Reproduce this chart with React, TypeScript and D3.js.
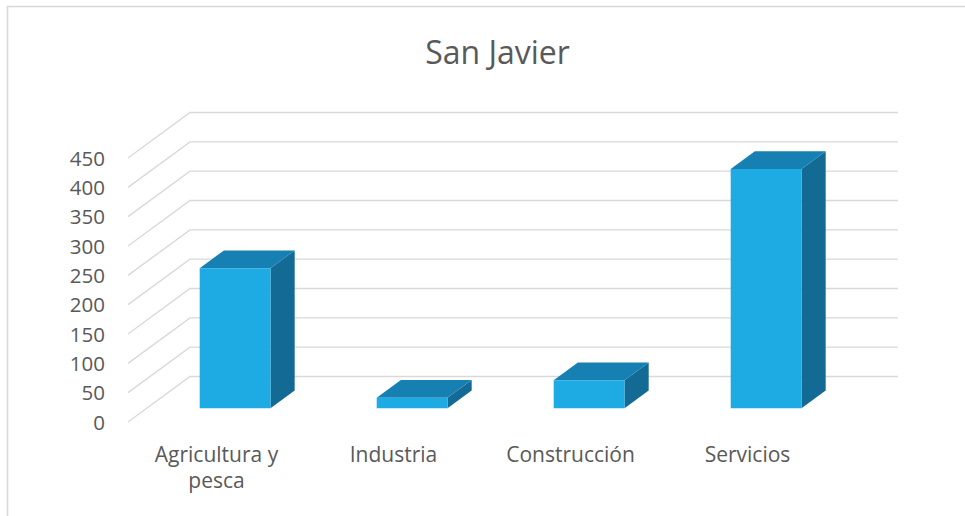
import React from "react";
import * as d3 from "d3";

const categories: string[][] = [["Agricultura y", "pesca"], ["Industria"], ["Construcción"], ["Servicios"]];
const values: number[] = [239, 18, 48, 408];
const yTicks: number[] = [0, 50, 100, 150, 200, 250, 300, 350, 400, 450];
const title = "San Javier";

const W = 965;
const H = 516;
const FONT = "'Open Sans', 'Noto Sans', sans-serif";
const TEXT = "#595959";
const GRID = "#d9d9d9";

export default function App() {
  const x0 = 128;
  const x1 = 836;
  const y = d3.scaleLinear().domain([0, 450]).range([422, 158]);
  const DX = 62;
  const DY = -45.5;
  const xBand = d3
    .scaleBand<number>()
    .domain(categories.map((_, i) => i))
    .range([x0, x1])
    .paddingInner(0.6)
    .paddingOuter(0.3);
  const zFront = 0.3;
  const zBack = 0.69;
  const P = (px: number, v: number, z: number): [number, number] => [px + z * DX, y(v) + z * DY];
  const poly = (pts: [number, number][]) => pts.map((p) => p.join(",")).join(" ");

  return (
    <svg width={W} height={H} style={{ position: "absolute", left: 0, top: 0, background: "#fff" }}>
      <rect x={7.5} y={6.5} width={1100} height={700} fill="#fff" stroke={GRID} strokeWidth={1.6} />
      <text x={497.5} y={64} textAnchor="middle" fontFamily={FONT} fontSize={32} fontWeight={400} fill={TEXT}>
        {title}
      </text>
      {yTicks.map((t) => {
        const a = P(x0, t, 0);
        const b = P(x0, t, 1);
        const c = P(x1, t, 1);
        return (
          <g key={t}>
            <polyline points={poly([a, b, c])} fill="none" stroke={GRID} strokeWidth={1.4} />
            <text x={105} y={y(t) + 7.5} textAnchor="end" fontFamily={FONT} fontSize={20.5} fill={TEXT}>
              {t}
            </text>
          </g>
        );
      })}
      {values.map((v, i) => {
        const bx0 = xBand(i)!;
        const bx1 = bx0 + xBand.bandwidth();
        const front = poly([P(bx0, 0, zFront), P(bx1, 0, zFront), P(bx1, v, zFront), P(bx0, v, zFront)]);
        const top = poly([P(bx0, v, zFront), P(bx1, v, zFront), P(bx1, v, zBack), P(bx0, v, zBack)]);
        const side = poly([P(bx1, 0, zFront), P(bx1, 0, zBack), P(bx1, v, zBack), P(bx1, v, zFront)]);
        return (
          <g key={i}>
            <polygon points={side} fill="#136b95" />
            <polygon points={top} fill="#1680b3" />
            <polygon points={front} fill="#1eaae2" />
          </g>
        );
      })}
      {categories.map((lines, i) => {
        const cx = xBand(i)! + xBand.bandwidth() / 2;
        return (
          <text key={i} textAnchor="middle" fontFamily={FONT} fontSize={21} fill={TEXT}>
            {lines.map((l, j) => (
              <tspan key={j} x={cx} y={462 + j * 26}>
                {l}
              </tspan>
            ))}
          </text>
        );
      })}
    </svg>
  );
}
